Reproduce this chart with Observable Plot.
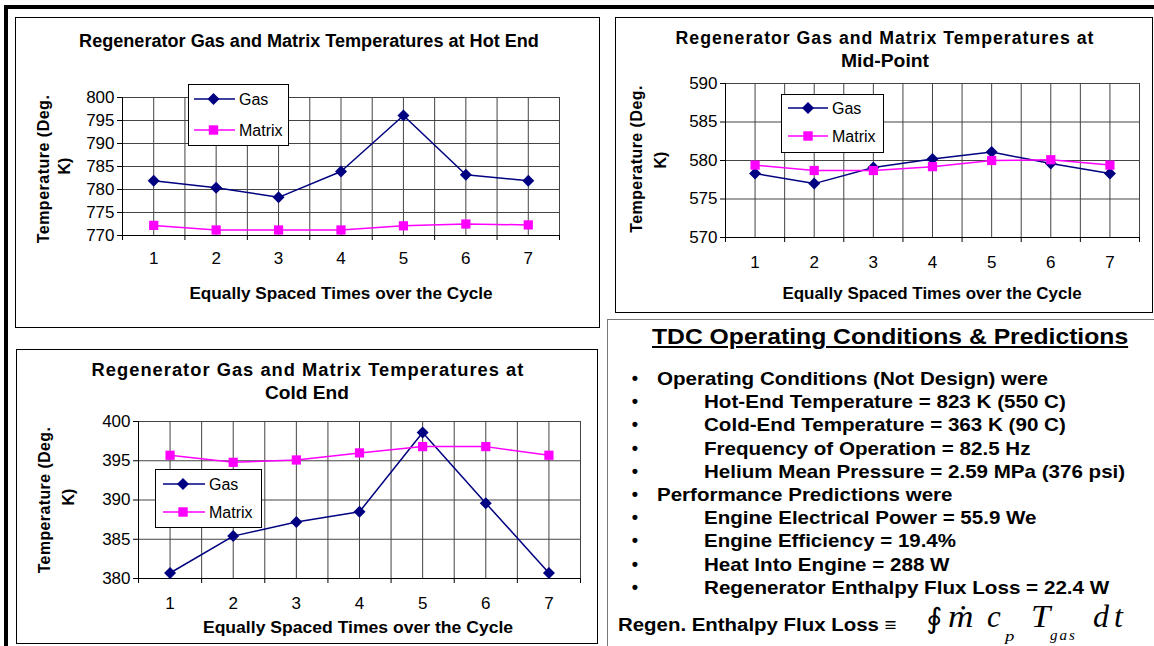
<!DOCTYPE html>
<html><head><meta charset="utf-8">
<script src="https://cdn.jsdelivr.net/npm/d3@7"></script>
<script src="https://cdn.jsdelivr.net/npm/@observablehq/plot@0.6"></script>
<style>
html,body{margin:0;padding:0;background:#fff;}
#root{position:relative;width:1154px;height:646px;overflow:hidden;background:#fff;font-family:"Liberation Sans",Arial,sans-serif;}
.abs{position:absolute;}
.t{position:absolute;white-space:pre;line-height:1;color:#000;}
</style></head><body><div id="root"></div>
<script>
// ---------- data ----------
const times = [1, 2, 3, 4, 5, 6, 7];
const seriesNames = ["Gas", "Matrix"];
const hotGas = [781.9, 780.4, 778.3, 783.9, 796.1, 783.2, 781.9];
const hotMatrix = [772.2, 771.2, 771.2, 771.2, 772.1, 772.5, 772.3];
const midGas = [578.3, 577.0, 579.1, 580.2, 581.1, 579.6, 578.3];
const midMatrix = [579.4, 578.7, 578.7, 579.2, 580.0, 580.1, 579.4];
const coldGas = [380.7, 385.4, 387.2, 388.5, 398.6, 389.6, 380.7];
const coldMatrix = [395.7, 394.8, 395.1, 396.0, 396.8, 396.8, 395.7];
const hotTicks = [770, 775, 780, 785, 790, 795, 800];
const midTicks = [570, 575, 580, 585, 590];
const coldTicks = [380, 385, 390, 395, 400];
const hotTitle = ["Regenerator Gas and Matrix Temperatures at Hot End"];
const midTitle = ["Regenerator Gas and Matrix Temperatures at", "Mid-Point"];
const coldTitle = ["Regenerator Gas and Matrix Temperatures at", "Cold End"];
const yTitle = ["Temperature (Deg.", "K)"];
const xTitle = "Equally Spaced Times over the Cycle";
const panelHeading = "TDC Operating Conditions & Predictions";
const bulletLines = [
  [1, "Operating Conditions (Not Design) were"],
  [2, "Hot-End Temperature = 823 K (550 C)"],
  [2, "Cold-End Temperature = 363 K (90 C)"],
  [2, "Frequency of Operation = 82.5 Hz"],
  [2, "Helium Mean Pressure = 2.59 MPa (376 psi)"],
  [1, "Performance Predictions were"],
  [2, "Engine Electrical Power = 55.9 We"],
  [2, "Engine Efficiency = 19.4%"],
  [2, "Heat Into Engine = 288 W"],
  [2, "Regenerator Enthalpy Flux Loss = 22.4 W"]
];
const bulletWidths = [391, 362, 362, 326, 421, 296, 332, 252, 245, 405];
const formulaLabel = "Regen. Enthalpy Flux Loss \u2261";

// ---------- style ----------
const SANS = '"Liberation Sans", Arial, sans-serif';
const SERIF = '"Liberation Serif", "Times New Roman", serif';
const NAVY = "#000080", MAG = "#ff00ff";
const root = document.getElementById("root");

function box(x0, y0, x1, y1, style) {
  const d = document.createElement("div");
  d.className = "abs";
  Object.assign(d.style, {left: x0 + "px", top: y0 + "px", width: (x1 - x0) + "px", height: (y1 - y0) + "px", boxSizing: "border-box"}, style);
  root.appendChild(d);
  return d;
}

function txt(s, o) {
  const d = document.createElement("div");
  d.className = "t";
  d.textContent = s;
  d.style.fontSize = o.size + "px";
  d.style.fontWeight = o.weight || "bold";
  d.style.fontFamily = o.family || SANS;
  if (o.italic) d.style.fontStyle = "italic";
  if (o.ls) d.style.letterSpacing = o.ls + "px";
  if (o.underline) { d.style.textDecoration = "underline"; d.style.textDecorationThickness = "2px"; d.style.textUnderlineOffset = "2px"; }
  d.style.left = o.x + "px";
  d.style.top = o.y + "px";
  root.appendChild(d);
  const w = d.offsetWidth;
  const sx = o.width ? o.width / w : 1;
  const anchor = o.anchor || "middle";
  const tx = anchor === "middle" ? "-50%" : "0";
  d.style.transformOrigin = anchor === "middle" ? "50% 50%" : "0 50%";
  let tf = `translate(${tx},-50%)`;
  if (o.rotate) tf += " rotate(-90deg)";
  tf += ` scaleX(${sx})`;
  d.style.transform = tf;
  return d;
}

function chart(gas, matrix, ticks, px0, py0, px1, py1, labelPad) {
  const mL = 50, mR = 12, mT = 12, mB = 40;
  const W = px1 - px0, H = py1 - py0;
  const rows = times.map((t, i) => ({t, gas: gas[i], matrix: matrix[i]}));
  const bounds = d3.range(0.5, 8, 1);
  const grid = d3.range(1, 7.75, 0.5);
  const yd = [ticks[0], ticks[ticks.length - 1]];
  const svg = Plot.plot({
    width: W + mL + mR, height: H + mT + mB,
    marginLeft: mL, marginRight: mR, marginTop: mT, marginBottom: mB,
    x: {domain: [0.5, 7.5]},
    y: {domain: yd},
    style: {fontFamily: SANS, fontSize: "17px", color: "#000", background: "transparent", overflow: "visible"},
    marks: [
      Plot.frame({stroke: "#999"}),
      Plot.ruleY(ticks.slice(1), {stroke: "#444"}),
      Plot.ruleX(grid, {stroke: "#444"}),
      Plot.ruleX([0.5], {stroke: "#000"}),
      Plot.ruleY([yd[0]], {stroke: "#000"}),
      Plot.axisY({ticks, tickSize: 5, tickPadding: 3, label: null, fontSize: 17}),
      Plot.axisX({ticks: bounds, tickSize: 5, tickFormat: () => "", label: null}),
      Plot.axisX({ticks: times, tickSize: 0, tickPadding: labelPad, tickFormat: d3.format("d"), label: null, fontSize: 17}),
      Plot.line(rows, {x: "t", y: "gas", stroke: NAVY, strokeWidth: 1.5}),
      Plot.dot(rows, {x: "t", y: "gas", symbol: "diamond2", r: 5.4, fill: NAVY}),
      Plot.line(rows, {x: "t", y: "matrix", stroke: MAG, strokeWidth: 1.5}),
      Plot.dot(rows, {x: "t", y: "matrix", symbol: "square", r: 5.2, fill: MAG})
    ]
  });
  svg.style.position = "absolute";
  svg.style.left = (px0 - mL) + "px";
  svg.style.top = (py0 - mT) + "px";
  root.appendChild(svg);
}

function legend(x0, y0, x1, y1, r1, r2, lx0, lx1, mx, tx) {
  const b = box(x0, y0, x1, y1, {border: "1px solid #000", background: "#fff"});
  const svg = d3.create("svg").attr("width", x1 - x0).attr("height", y1 - y0)
    .style("position", "absolute").style("left", "-1px").style("top", "-1px").style("overflow", "visible");
  const rowsY = [r1, r2];
  const cols = [NAVY, MAG];
  seriesNames.forEach((name, i) => {
    const y = rowsY[i];
    svg.append("line").attr("x1", lx0).attr("x2", lx1).attr("y1", y).attr("y2", y).attr("stroke", cols[i]).attr("stroke-width", 1.5);
    if (i === 0) svg.append("path").attr("d", `M${mx},${y - 6}L${mx + 6},${y}L${mx},${y + 6}L${mx - 6},${y}Z`).attr("fill", NAVY);
    else svg.append("rect").attr("x", mx - 4.7).attr("y", y - 4.7).attr("width", 9.4).attr("height", 9.4).attr("fill", MAG);
    svg.append("text").attr("x", tx).attr("y", y).attr("dy", "0.35em").attr("font-family", SANS).attr("font-size", 16).text(name);
  });
  b.appendChild(svg.node());
}

// ---------- frame ----------
box(4, 5, 1154, 9, {background: "#000"});
box(4, 5, 8, 646, {background: "#000"});

// ---------- panel 1: hot end ----------
box(15, 17, 600, 328, {border: "1px solid #000"});
txt(hotTitle[0], {x: 309, y: 41, size: 18, width: 460});
chart(hotGas, hotMatrix, hotTicks, 122, 97, 559, 235, 16);
txt(yTitle[0], {x: 44, y: 169, size: 16, rotate: true, width: 149, ls: 0.5});
txt(yTitle[1], {x: 65, y: 166, size: 16, rotate: true});
txt(xTitle, {x: 341, y: 293, size: 17, width: 303});
legend(188, 84, 289, 146, 15, 46, 6, 47, 25.5, 51);

// ---------- panel 2: mid-point ----------
box(615, 17, 1153, 313, {border: "1.5px solid #000"});
txt(midTitle[0], {x: 885, y: 38, size: 18, width: 419, ls: 1});
txt(midTitle[1], {x: 885, y: 61, size: 18, width: 88});
chart(midGas, midMatrix, midTicks, 725, 83, 1139, 237, 18);
txt(yTitle[0], {x: 637, y: 159, size: 16, rotate: true, width: 148, ls: 0.5});
txt(yTitle[1], {x: 661, y: 160, size: 16, rotate: true});
txt(xTitle, {x: 932, y: 293, size: 17, width: 299});
legend(781, 94, 884, 153, 14, 42, 7, 47, 27, 51);

// ---------- panel 3: cold end ----------
box(16, 349, 598, 644, {border: "1.5px solid #000"});
txt(coldTitle[0], {x: 308, y: 370, size: 18, width: 433, ls: 1});
txt(coldTitle[1], {x: 307, y: 393, size: 18, width: 84});
chart(coldGas, coldMatrix, coldTicks, 138, 421, 580, 578, 18);
txt(yTitle[0], {x: 45, y: 500, size: 16, rotate: true, width: 147, ls: 0.5});
txt(yTitle[1], {x: 69, y: 497, size: 16, rotate: true});
txt(xTitle, {x: 358, y: 627, size: 17, width: 310});
legend(155, 469, 262, 528, 15, 43, 8, 50, 28, 54);

// ---------- panel 4: text ----------
box(607, 319, 1154, 646, {borderLeft: "1px solid #777", borderTop: "1px solid #777"});
txt(panelHeading, {x: 652, y: 337, size: 22, anchor: "start", width: 476, underline: true});
const rowY0 = 378, rowStep = 23.2;
bulletLines.forEach(([lvl, s], i) => {
  const y = rowY0 + i * rowStep;
  txt("\u2022", {x: 635, y: y, size: 18});
  txt(s, {x: lvl === 1 ? 657 : 704, y: y, size: 19, anchor: "start", width: bulletWidths[i]});
});
txt(formulaLabel, {x: 618, y: 625, size: 18, anchor: "start", width: 279});
// formula pieces (baseline ~627)
function ftxt(s, x, base, size, italic, w, fam, ls) {
  return txt(s, {x: x, y: base - 0.34 * size, size: size, weight: "normal", family: fam || SERIF, italic: italic, anchor: "start", width: w, ls: ls});
}
ftxt("\u222E", 926, 629, 28, false, 17, '"DejaVu Serif", serif');
ftxt("\u1E41", 948, 627, 31, true, 25);
ftxt("c", 987, 627, 31, true, 14);
ftxt("p", 1005, 641, 15, true, 10);
ftxt("T", 1031, 627, 31, true, 19);
ftxt("gas", 1050, 640, 15, true, null, null, 2);
ftxt("dt", 1093, 627, 32, true, null, null, 5);
</script></body></html>
